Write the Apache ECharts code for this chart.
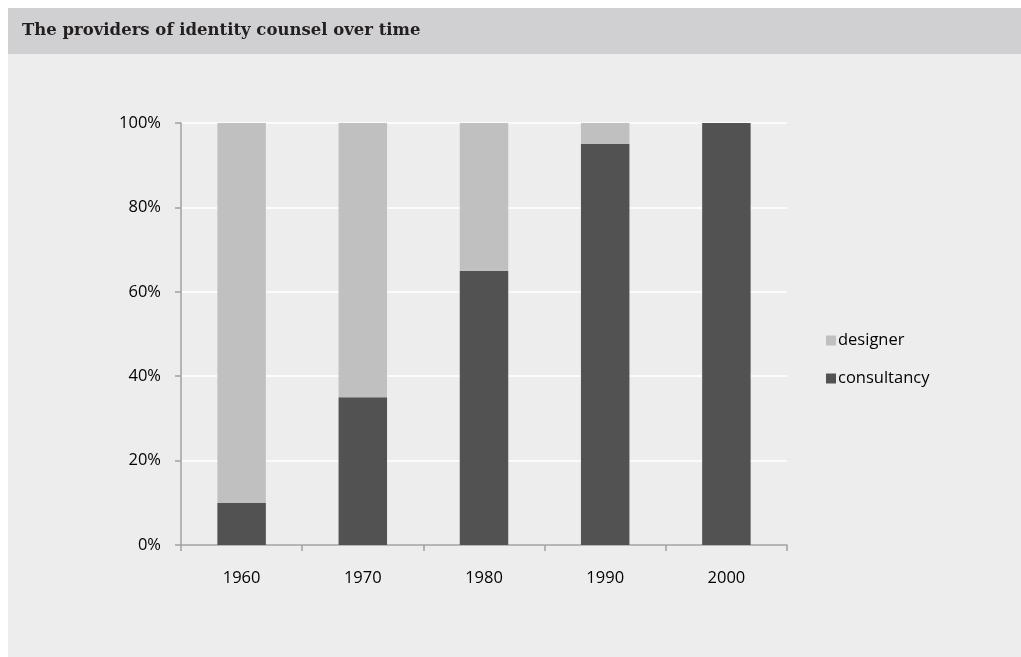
<!DOCTYPE html>
<html>
<head>
<meta charset="utf-8">
<style>
  html, body { margin: 0; padding: 0; background: #ffffff; }
  #chart { width: 1021px; height: 657px; }
</style>
<script src="https://cdn.jsdelivr.net/npm/echarts@6/dist/echarts.min.js"></script>
</head>
<body>
<div id="chart"></div>
<script>
const titleText = 'The providers of identity counsel over time';
const decades = ['1960', '1970', '1980', '1990', '2000'];
const consultancy = [10, 35, 65, 95, 100];
const designer = [90, 65, 35, 5, 0];

const chart = echarts.init(document.getElementById('chart'));
const labelFont = '"Open Sans", "Liberation Sans", sans-serif';

chart.setOption({
  backgroundColor: '#ffffff',
  animation: false,
  graphic: [
    { type: 'rect', left: 8, top: 8, shape: { width: 1013, height: 649 }, style: { fill: '#ededed' }, z: -10 },
    { type: 'rect', left: 8, top: 8, shape: { width: 1013, height: 46 }, style: { fill: '#d0d0d2' }, z: -9 },
    { type: 'text', left: 22, top: 22, style: { text: titleText, fill: '#231f20', font: 'bold 16.5px "DejaVu Serif", "Liberation Serif", serif' }, z: 5 }
  ],
  grid: { left: 181, right: 234, top: 123, bottom: 112, containLabel: false },
  legend: {
    orient: 'vertical',
    left: 821,
    top: 327,
    itemWidth: 10,
    itemHeight: 10,
    itemGap: 21,
    icon: 'rect',
    data: ['designer', 'consultancy'],
    textStyle: { fontFamily: labelFont, fontSize: 16.5, color: '#000000', padding: [0, 0, 0, -3] }
  },
  xAxis: {
    type: 'category',
    data: decades,
    axisLine: { lineStyle: { color: '#a0a0a0', width: 1.5 } },
    axisTick: { show: true, alignWithLabel: false, length: 6, lineStyle: { color: '#a0a0a0', width: 1.5 } },
    axisLabel: { margin: 25, fontFamily: labelFont, fontSize: 16.5, color: '#000000' }
  },
  yAxis: {
    type: 'value',
    min: 0,
    max: 100,
    interval: 20,
    axisLine: { show: true, lineStyle: { color: '#a0a0a0', width: 1.5 } },
    axisTick: { show: true, length: 6, lineStyle: { color: '#a0a0a0', width: 1.5 } },
    splitLine: { show: true, lineStyle: { color: '#ffffff', width: 1.5 } },
    axisLabel: { margin: 20, fontFamily: labelFont, fontSize: 16.5, color: '#000000', formatter: '{value}%' }
  },
  series: [
    {
      name: 'consultancy',
      type: 'bar',
      stack: 'share',
      data: consultancy,
      barWidth: '40%',
      itemStyle: { color: '#525252' }
    },
    {
      name: 'designer',
      type: 'bar',
      stack: 'share',
      data: designer,
      barWidth: '40%',
      itemStyle: { color: '#c0c0c0' }
    }
  ]
});
</script>
</body>
</html>
